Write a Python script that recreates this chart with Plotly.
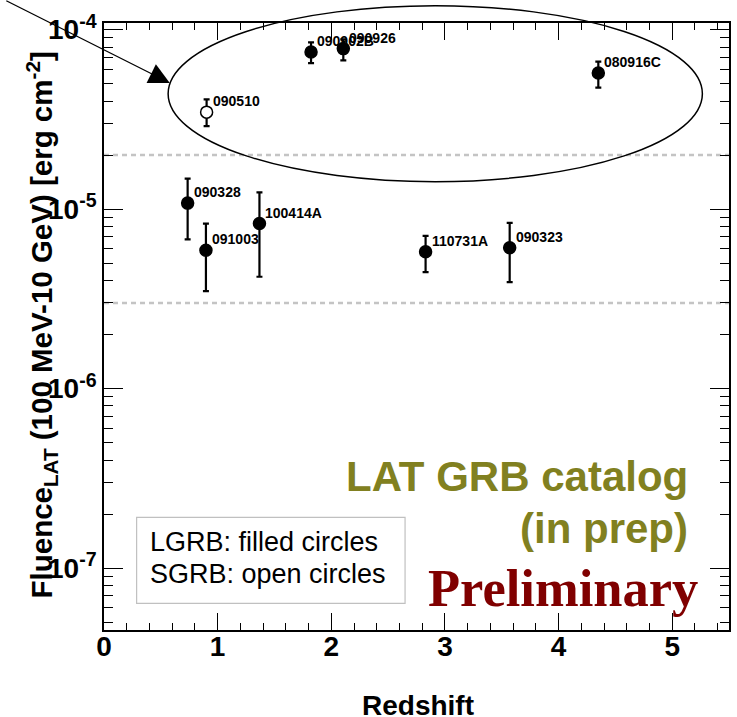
import math
import plotly.graph_objects as go

# ---------------- data ----------------
grb_names = ["090510", "090902B", "090926", "080916C", "090328",
             "091003", "100414A", "110731A", "090323"]
grb_class = ["S", "L", "L", "L", "L", "L", "L", "L", "L"]
redshift = [0.903, 1.822, 2.106, 4.35, 0.736, 0.897, 1.368, 2.83, 3.57]
fluence = [3.47e-5, 7.5e-5, 7.84e-5, 5.73e-5, 1.08e-5, 5.9e-6, 8.31e-6, 5.78e-6, 6.1e-6]
fluence_hi = [4.09e-5, 8.5e-5, 8.83e-5, 6.64e-5, 1.48e-5, 8.3e-6, 1.24e-5, 7.1e-6, 8.38e-6]
fluence_lo = [2.9e-5, 6.5e-5, 6.75e-5, 4.75e-5, 6.78e-6, 3.49e-6, 4.2e-6, 4.46e-6, 3.92e-6]

dashed_levels = [2e-5, 3e-6]
x_range = [0, 5.5]
y_range_log = [-7.345, -3.963]
x_ticks = [0, 1, 2, 3, 4, 5]
y_ticks = [1e-7, 1e-6, 1e-5, 1e-4]
y_tick_text = ["10<sup>-7</sup>", "10<sup>-6</sup>", "10<sup>-5</sup>", "10<sup>-4</sup>"]
y_minor = [m * 10.0 ** e for e in range(-8, -3) for m in range(2, 10)]

FONT = "Liberation Sans, Arial, Helvetica, sans-serif"

fig = go.Figure()

# dashed reference levels
for lv in dashed_levels:
    fig.add_trace(go.Scatter(x=x_range, y=[lv, lv], mode="lines",
                             line=dict(color="#c4c4c4", width=2.5, dash="5px,4px"),
                             showlegend=False, hoverinfo="skip"))

for cls in ["L", "S"]:
    idx = [i for i, c in enumerate(grb_class) if c == cls]
    xs = [redshift[i] for i in idx]
    ys = [fluence[i] for i in idx]
    ep = [fluence_hi[i] - fluence[i] for i in idx]
    em = [fluence[i] - fluence_lo[i] for i in idx]
    fig.add_trace(go.Scatter(
        x=xs, y=ys, mode="markers",
        marker=dict(size=12, color="black" if cls == "L" else "white",
                    line=dict(color="black", width=1.5)),
        error_y=dict(type="data", symmetric=False, array=ep, arrayminus=em,
                     color="black", thickness=2.2, width=3),
        showlegend=False))

annotations = []
for n, zx, f in zip(grb_names, redshift, fluence):
    annotations.append(dict(x=zx, y=math.log10(f), xref="x", yref="y", text=n,
                            showarrow=False, xanchor="left", yanchor="middle",
                            xshift=4, yshift=11,
                            font=dict(family=FONT, size=14, color="black", weight="bold")))

# axis titles
annotations.append(dict(x=-0.100, y=0.5025, xref="paper", yref="paper",
                        text="Fluence<sub>LAT</sub> (100 MeV-10 GeV) [erg cm<sup>-2</sup>]",
                        textangle=-90, showarrow=False, xanchor="center", yanchor="middle",
                        font=dict(family=FONT, size=29.5, color="black", weight="bold")))
annotations.append(dict(x=0.503, y=-0.1236, xref="paper", yref="paper", text="Redshift",
                        showarrow=False, xanchor="center", yanchor="middle",
                        font=dict(family=FONT, size=28, color="black", weight="bold")))

# legend-like text box
annotations.append(dict(x=0.071, y=0.1455, xref="paper", yref="paper",
                        text="LGRB: filled circles", showarrow=False,
                        xanchor="left", yanchor="middle",
                        font=dict(family=FONT, size=27, color="black")))
annotations.append(dict(x=0.071, y=0.0917, xref="paper", yref="paper",
                        text="SGRB: open circles", showarrow=False,
                        xanchor="left", yanchor="middle",
                        font=dict(family=FONT, size=27, color="black")))

# catalog text
annotations.append(dict(x=0.9375, y=0.2526, xref="paper", yref="paper",
                        text="LAT GRB catalog", showarrow=False,
                        xanchor="right", yanchor="middle",
                        font=dict(family=FONT, size=42, color="#818020", weight="bold")))
annotations.append(dict(x=0.9375, y=0.168, xref="paper", yref="paper",
                        text="(in prep)", showarrow=False,
                        xanchor="right", yanchor="middle",
                        font=dict(family=FONT, size=42, color="#818020", weight="bold")))
annotations.append(dict(x=0.9535, y=0.070, xref="paper", yref="paper",
                        text="Preliminary", showarrow=False,
                        xanchor="right", yanchor="middle",
                        font=dict(family="Liberation Serif, Times New Roman, serif",
                                  size=52.5, color="#800000", weight="bold")))

# arrow pointing at the ellipse
annotations.append(dict(x=0.1053, y=0.9012, xref="paper", yref="paper",
                        ax=-165, ay=-94, axref="pixel", ayref="pixel",
                        text="", showarrow=True, arrowhead=2, arrowsize=3.2,
                        arrowwidth=1.3, arrowcolor="black"))

shapes = [
    dict(type="circle", xref="paper", yref="paper",
         x0=0.1026, x1=0.9574, y0=0.7386, y1=1.0285,
         line=dict(color="black", width=1.5), layer="above"),
    dict(type="rect", xref="paper", yref="paper",
         x0=0.0522, x1=0.4817, y0=0.044, y1=0.1857,
         line=dict(color="#c0c0c0", width=1.2)),
]

fig.update_layout(
    width=737, height=717,
    margin=dict(l=104, r=6, t=23, b=87),
    paper_bgcolor="white", plot_bgcolor="white",
    annotations=annotations, shapes=shapes,
    showlegend=False,
    xaxis=dict(range=x_range, tickvals=x_ticks, ticks="inside", ticklen=17, tickwidth=1.3,
               tickcolor="black", showline=True, linecolor="black", linewidth=1.5,
               mirror="ticks", showgrid=False, zeroline=False, ticklabelstandoff=-9,
               tickfont=dict(family=FONT, size=28, color="black", weight="bold"),
               minor=dict(dtick=0.2, ticks="inside", ticklen=7, tickwidth=1.3,
                          tickcolor="black", showgrid=False)),
    yaxis=dict(type="log", range=y_range_log, tickvals=y_ticks, ticktext=y_tick_text,
               ticks="inside", ticklen=19, tickwidth=1.3, tickcolor="black",
               showline=True, linecolor="black", linewidth=1.5, mirror="ticks",
               showgrid=False, zeroline=False,
               tickfont=dict(family=FONT, size=28, color="black", weight="bold"),
               minor=dict(tickvals=y_minor, ticks="inside", ticklen=9, tickwidth=1.3,
                          tickcolor="black", showgrid=False)),
)

fig.write_html("out.html")
